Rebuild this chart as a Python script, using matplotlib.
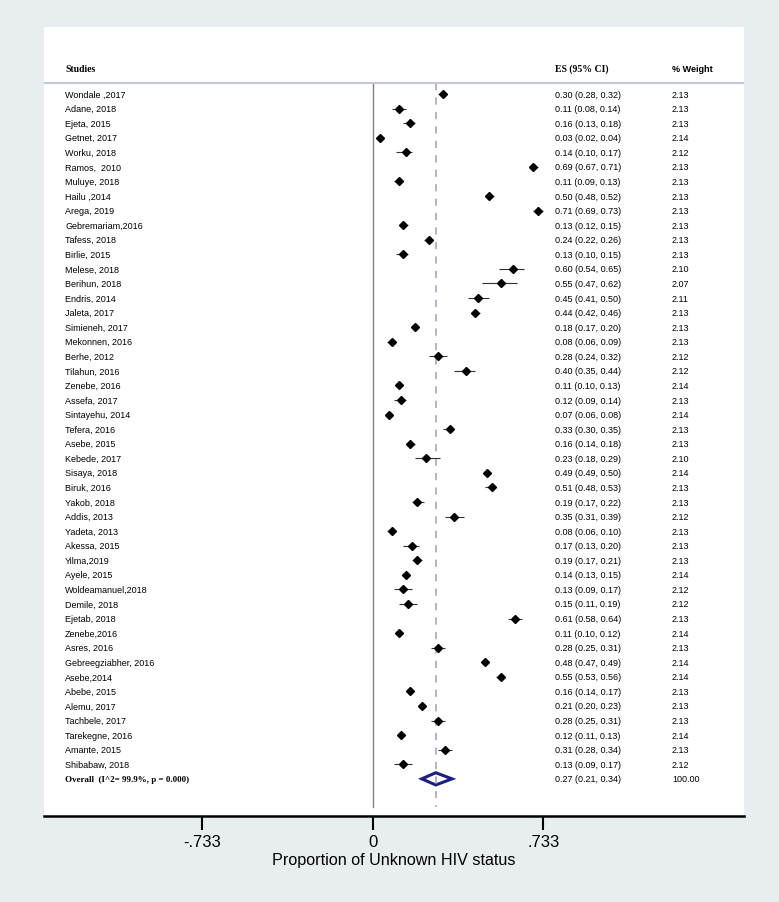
import numpy as np
import matplotlib.pyplot as plt
from matplotlib.patches import Polygon

# study data
studies = ['Wondale ,2017', 'Adane, 2018', 'Ejeta, 2015', 'Getnet, 2017', 'Worku, 2018',
           'Ramos,  2010', 'Muluye, 2018', 'Hailu ,2014', 'Arega, 2019', 'Gebremariam,2016',
           'Tafess, 2018', 'Birlie, 2015', 'Melese, 2018', 'Berihun, 2018', 'Endris, 2014',
           'Jaleta, 2017', 'Simieneh, 2017', 'Mekonnen, 2016', 'Berhe, 2012', 'Tilahun, 2016',
           'Zenebe, 2016', 'Assefa, 2017', 'Sintayehu, 2014', 'Tefera, 2016', 'Asebe, 2015',
           'Kebede, 2017', 'Sisaya, 2018', 'Biruk, 2016', 'Yakob, 2018', 'Addis, 2013',
           'Yadeta, 2013', 'Akessa, 2015', 'Yilma,2019', 'Ayele, 2015', 'Woldeamanuel,2018',
           'Demile, 2018', 'Ejetab, 2018', 'Zenebe,2016', 'Asres, 2016', 'Gebreegziabher, 2016',
           'Asebe,2014', 'Abebe, 2015', 'Alemu, 2017', 'Tachbele, 2017', 'Tarekegne, 2016',
           'Amante, 2015', 'Shibabaw, 2018']
es = [0.30, 0.11, 0.16, 0.03, 0.14, 0.69, 0.11, 0.50, 0.71, 0.13,
      0.24, 0.13, 0.60, 0.55, 0.45, 0.44, 0.18, 0.08, 0.28, 0.40,
      0.11, 0.12, 0.07, 0.33, 0.16, 0.23, 0.49, 0.51, 0.19, 0.35,
      0.08, 0.17, 0.19, 0.14, 0.13, 0.15, 0.61, 0.11, 0.28, 0.48,
      0.55, 0.16, 0.21, 0.28, 0.12, 0.31, 0.13]
lo = [0.28, 0.08, 0.13, 0.02, 0.10, 0.67, 0.09, 0.48, 0.69, 0.12,
      0.22, 0.10, 0.54, 0.47, 0.41, 0.42, 0.17, 0.06, 0.24, 0.35,
      0.10, 0.09, 0.06, 0.30, 0.14, 0.18, 0.49, 0.48, 0.17, 0.31,
      0.06, 0.13, 0.17, 0.13, 0.09, 0.11, 0.58, 0.10, 0.25, 0.47,
      0.53, 0.14, 0.20, 0.25, 0.11, 0.28, 0.09]
hi = [0.32, 0.14, 0.18, 0.04, 0.17, 0.71, 0.13, 0.52, 0.73, 0.15,
      0.26, 0.15, 0.65, 0.62, 0.50, 0.46, 0.20, 0.09, 0.32, 0.44,
      0.13, 0.14, 0.08, 0.35, 0.18, 0.29, 0.50, 0.53, 0.22, 0.39,
      0.10, 0.20, 0.21, 0.15, 0.17, 0.19, 0.64, 0.12, 0.31, 0.49,
      0.56, 0.17, 0.23, 0.31, 0.13, 0.34, 0.17]
weights = [2.13, 2.13, 2.13, 2.14, 2.12, 2.13, 2.13, 2.13, 2.13, 2.13,
           2.13, 2.13, 2.10, 2.07, 2.11, 2.13, 2.13, 2.13, 2.12, 2.12,
           2.14, 2.13, 2.14, 2.13, 2.13, 2.10, 2.14, 2.13, 2.13, 2.12,
           2.13, 2.13, 2.13, 2.14, 2.12, 2.12, 2.13, 2.14, 2.13, 2.14,
           2.14, 2.13, 2.13, 2.13, 2.14, 2.13, 2.12]
overall_es, overall_lo, overall_hi = 0.27, 0.21, 0.34
overall_label = 'Overall  (I^2= 99.9%, p = 0.000)'
xticks = [-0.733, 0, 0.733]
xticklabels = ['-.733', '0', '.733']

plt.rcParams['font.family'] = ['Liberation Sans', 'DejaVu Sans']

fig = plt.figure(figsize=(7.79, 9.03), dpi=100, facecolor='#e8eef0')
ax = fig.add_axes([44/779, 1 - 817/903, 700/779, (817 - 28)/903])
ax.set_facecolor('white')

n = len(studies)
rows = np.arange(n)
overall_row = n

ax.set_xlim(-1.414, 1.595)
ax.set_ylim(49.55, -4.6)

# reference lines
ax.plot([0, 0], [-0.755, 48.94], color='#808080', lw=1)
ax.plot([overall_es, overall_es], [-0.755, 48.94], color='#a8b0c8', lw=1.3,
        dashes=(4, 4))
ax.axhline(-0.755, color='#c3c7d8', lw=1.5)

# studies
ax.hlines(rows, lo, hi, color='#333333', lw=0.8)
ax.plot(es, rows, 'D', color='black', markersize=4.5)

# overall diamond
diamond = Polygon([[overall_lo, overall_row], [overall_es, overall_row - 0.42],
                   [overall_hi, overall_row], [overall_es, overall_row + 0.42]],
                  closed=True, facecolor='white', edgecolor='#1a1f85', lw=2.2)
ax.add_patch(diamond)

# text columns
x_lab, x_es, x_w = -1.323, 0.782, 1.285
ax.text(x_lab, -1.78, 'Studies', family='Liberation Serif', weight='bold',
        fontsize=7, va='center')
ax.text(x_es, -1.78, 'ES (95% CI)', family='Liberation Serif', weight='bold',
        fontsize=7, va='center')
ax.text(x_w, -1.78, '% Weight', weight='bold', fontsize=6.5, va='center')
for i in range(n):
    ax.text(x_lab, i, studies[i], fontsize=6.5, va='center')
    ax.text(x_es, i, f'{es[i]:.2f} ({lo[i]:.2f}, {hi[i]:.2f})', fontsize=6.5, va='center')
    ax.text(x_w, i, f'{weights[i]:.2f}', fontsize=6.5, va='center')
ax.text(x_lab, overall_row, overall_label, family='Liberation Serif', weight='bold',
        fontsize=6.5, va='center')
ax.text(x_es, overall_row, f'{overall_es:.2f} ({overall_lo:.2f}, {overall_hi:.2f})',
        fontsize=6.5, va='center')
ax.text(x_w, overall_row, '100.00', fontsize=6.5, va='center')

# axes styling
for side in ['top', 'left', 'right']:
    ax.spines[side].set_visible(False)
ax.spines['bottom'].set_linewidth(1.8)
ax.set_yticks([])
ax.set_xticks(xticks)
ax.set_xticklabels(xticklabels, fontsize=12)
ax.tick_params(axis='x', direction='out', length=10, width=1.5, pad=3)
ax.set_xlabel('Proportion of Unknown HIV status', fontsize=11.6, labelpad=2)

fig.savefig('out.png', dpi=100, facecolor=fig.get_facecolor())
